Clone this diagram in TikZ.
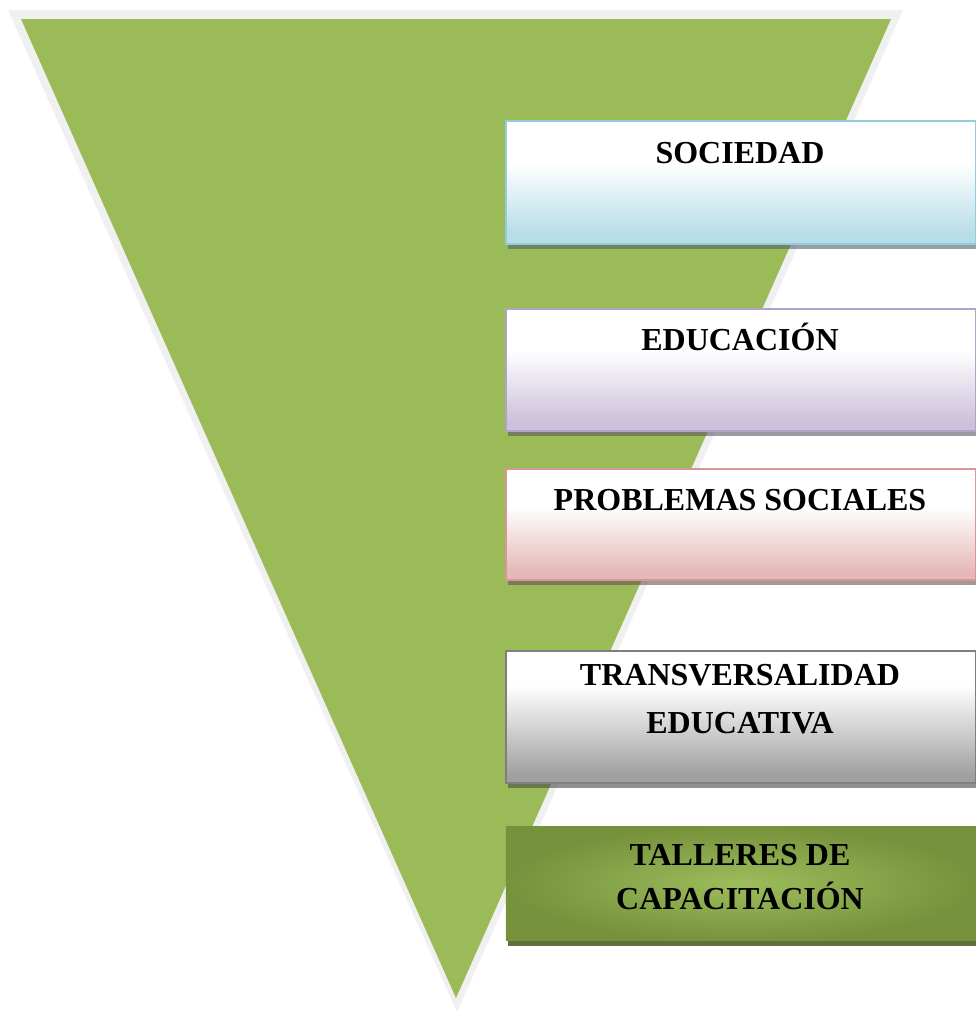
\documentclass[tikz,border=0pt]{standalone}
\usepackage{fontspec}
\setmainfont{Liberation Serif}
\usetikzlibrary{shadows}
\definecolor{trigreen}{HTML}{9BBB59}
\definecolor{trigray}{HTML}{F0F0F0}
\definecolor{socB}{HTML}{93CDDD}
\definecolor{socF}{HTML}{B7DDE8}
\definecolor{eduB}{HTML}{B3A2C7}
\definecolor{eduF}{HTML}{CCC1DA}
\definecolor{proB}{HTML}{D99694}
\definecolor{proF}{HTML}{E6B9B8}
\definecolor{traB}{HTML}{7F7F7F}
\definecolor{traF}{HTML}{A0A0A0}
\definecolor{talO}{HTML}{76923C}
\definecolor{talI}{HTML}{9DBD5B}
\definecolor{talS}{HTML}{4F6228}
\pgfdeclareverticalshading{socsh}{100bp}{color(0bp)=(socF); color(29bp)=(socF); color(58bp)=(white); color(100bp)=(white)}
\pgfdeclareverticalshading{edush}{100bp}{color(0bp)=(eduF); color(29bp)=(eduF); color(58bp)=(white); color(100bp)=(white)}
\pgfdeclareverticalshading{prosh}{100bp}{color(0bp)=(proF); color(29bp)=(proF); color(58bp)=(white); color(100bp)=(white)}
\pgfdeclareverticalshading{trash}{100bp}{color(0bp)=(traF); color(28bp)=(traF); color(62bp)=(white); color(100bp)=(white)}
\begin{document}
\begin{tikzpicture}[x=1pt,y=-1pt,
  box/.style={rectangle, anchor=north west, minimum width=470pt, minimum height=#1, inner sep=0pt, line width=1.8pt},
  shad/.style={drop shadow={shadow xshift=2pt, shadow yshift=-5pt, fill=#1, opacity=0.6}},
  lbl/.style={font=\bfseries\fontsize{32}{46}\selectfont, anchor=base, inner sep=0pt}]
\useasboundingbox (0,0) rectangle (976,1012);
% funnel
\fill[trigray] (8,10) -- (903,10) -- (457,1012) -- cycle;
\fill[trigreen] (21,19) -- (891,19) -- (456,998) -- cycle;
% boxes
\node[box=123pt, draw=socB, shading=socsh, shad=socF!45!black] (soc) at (505,120) {};
\node[box=122pt, draw=eduB, shading=edush, shad=eduF!45!black] (edu) at (505,308) {};
\node[box=111pt, draw=proB, shading=prosh, shad=proF!45!black] (pro) at (505,468) {};
\node[box=132pt, draw=traB, shading=trash, shad=traF!45!black] (tra) at (505,650) {};
\node[box=114pt, minimum width=471pt, inner color=talI, outer color=talO, shading=radial, drop shadow={shadow xshift=2pt, shadow yshift=-5pt, fill=talS, opacity=0.9}] (tal) at (505,826) {};
% labels
\node[lbl] (t1) at (740,163) {SOCIEDAD};
\node[lbl] (t2) at (740,350) {EDUCACIÓN};
\node[lbl] (t3) at (740,510) {PROBLEMAS SOCIALES};
\node[lbl] (t4a) at (740,685) {TRANSVERSALIDAD};
\node[lbl] (t4b) at (740,733) {EDUCATIVA};
\node[lbl] (t5a) at (740,865) {TALLERES DE};
\node[lbl] (t5b) at (740,909) {CAPACITACIÓN};
\end{tikzpicture}
\end{document}
